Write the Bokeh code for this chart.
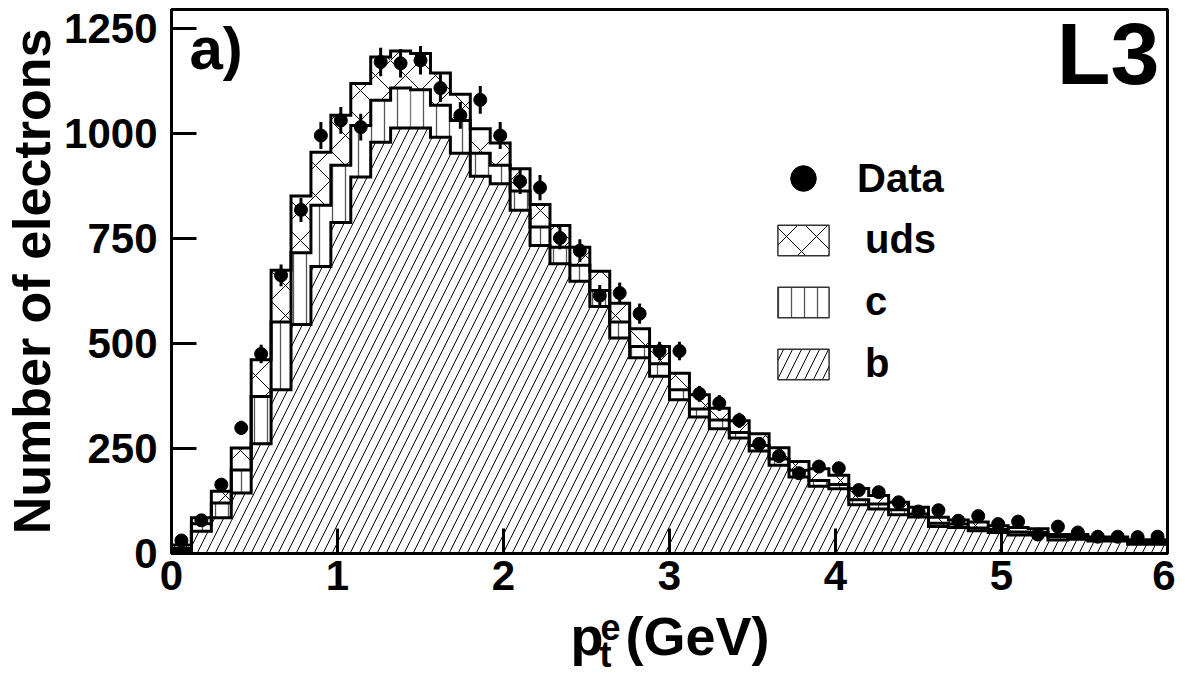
import numpy as np
from bokeh.plotting import figure
from bokeh.layouts import column
from bokeh.models import Range1d, FixedTicker, Label, Legend, LegendItem, ColumnDataSource
from bokeh.embed import file_html
from bokeh.resources import INLINE

# ---------------- data ----------------
bin_width = 0.12
n_bins = 50

b_vals = [6, 53, 85, 144, 261, 390, 545, 683, 788, 896,
          979, 1013, 1013, 991, 953, 898, 880, 817, 733, 690,
          648, 588, 513, 466, 422, 366, 325, 297, 275, 244,
          210, 182, 160, 154, 116, 106, 92, 87, 64, 62,
          54, 50, 44, 44, 32, 34, 30, 30, 22, 22]

c_vals = [6, 18, 35, 55, 113, 161, 171, 146, 136, 123,
          100, 95, 91, 76, 78, 55, 44, 46, 44, 39,
          38, 38, 38, 27, 30, 24, 19, 21, 13, 13,
          15, 16, 14, 10, 12, 12, 12, 7, 8, 8,
          7, 7, 7, 6, 8, 6, 4, 4, 6, 6]

uds_vals = [8, 14, 28, 52, 87, 123, 135, 126, 119, 100,
            103, 88, 86, 77, 62, 58, 53, 53, 54, 52,
            43, 46, 45, 42, 41, 39, 34, 28, 28, 28,
            27, 21, 28, 22, 27, 20, 18, 16, 14, 10,
            14, 9, 11, 9, 5, 5, 5, 5, 5, 5]

data_vals = [31, 79, 164, 299, 475, 662, 818, 995, 1031, 1015,
             1170, 1167, 1174, 1108, 1043, 1080, 995, 886, 871, 751,
             721, 614, 620, 571, 482, 482, 380, 358, 317, 261,
             232, 191, 207, 203, 151, 146, 122, 100, 103, 78,
             89, 70, 76, 45, 64, 50, 40, 40, 39, 40]

data_err = [6, 9, 13, 17, 22, 26, 29, 32, 32, 32,
            34, 34, 34, 33, 32, 33, 32, 30, 30, 27,
            27, 25, 25, 24, 22, 22, 19, 19, 18, 16,
            15, 14, 14, 14, 12, 12, 11, 10, 10, 9,
            9, 8, 9, 7, 8, 7, 6, 6, 6, 6]

x_ticks = [0, 1, 2, 3, 4, 5, 6]
y_ticks = [0, 250, 500, 750, 1000, 1250]
legend_labels = ["Data", "uds", "c", "b"]

FONT = "Liberation Sans"
BLACK = "black"

# ---------------- derived ----------------
edges = np.arange(n_bins + 1) * bin_width
centers = 0.5 * (edges[:-1] + edges[1:])
b_top = np.array(b_vals, dtype=float)
c_top = b_top + np.array(c_vals, dtype=float)
t_top = c_top + np.array(uds_vals, dtype=float)
d = np.array(data_vals, dtype=float)
e = np.array(data_err, dtype=float)

p = figure(frame_width=996, frame_height=544,
           min_border_left=164, min_border_right=8,
           min_border_top=9, min_border_bottom=54,
           x_range=Range1d(0, 6), y_range=Range1d(0, 1295),
           output_backend="svg", toolbar_location=None,
           background_fill_color="white", border_fill_color="white")
p.outline_line_color = BLACK
p.outline_line_width = 3
p.grid.visible = False

for ax in (p.xaxis[0], p.yaxis[0]):
    ax.major_tick_in = 25
    ax.major_tick_out = 0
    ax.minor_tick_in = 0
    ax.minor_tick_out = 0
    ax.major_tick_line_width = 3
    ax.major_tick_line_color = BLACK
    ax.axis_line_width = 3
    ax.axis_line_color = BLACK
    ax.major_label_text_font = FONT
    ax.major_label_text_font_style = "bold"
    ax.major_label_text_font_size = "42px"
    ax.major_label_text_color = BLACK

p.xaxis.ticker = FixedTicker(ticks=x_ticks)
p.yaxis.ticker = FixedTicker(ticks=y_ticks)
p.xaxis.major_label_standoff = 7
p.yaxis.major_label_standoff = 14
p.yaxis.axis_label = "Number of electrons"
p.yaxis.axis_label_text_font = FONT
p.yaxis.axis_label_text_font_style = "bold"
p.yaxis.axis_label_text_font_size = "52px"
p.yaxis.axis_label_text_color = BLACK
p.yaxis.axis_label_standoff = 0

src = ColumnDataSource(dict(left=edges[:-1], right=edges[1:],
                            zero=np.zeros(n_bins), b1=b_top, c1=c_top, t1=t_top))

B_HATCH = dict(hatch_pattern="right_diagonal_line", hatch_scale=18, hatch_weight=1, hatch_color=BLACK)
C_HATCH = dict(hatch_pattern="vertical_line", hatch_scale=13, hatch_weight=1.3, hatch_color="#555555")
U_HATCH = dict(hatch_pattern="diagonal_cross", hatch_scale=30, hatch_weight=1, hatch_color=BLACK)

p.quad(left="left", right="right", bottom="zero", top="b1", source=src,
       fill_color=None, line_color=None, **B_HATCH)
p.quad(left="left", right="right", bottom="b1", top="c1", source=src,
       fill_color=None, line_color=None, **C_HATCH)
p.quad(left="left", right="right", bottom="c1", top="t1", source=src,
       fill_color=None, line_color=None, **U_HATCH)

# step outlines of the three stacked levels
for lev in (b_top, c_top, t_top):
    xs = np.repeat(edges, 2)
    ys = np.concatenate([[0.0], np.repeat(lev, 2), [0.0]])
    p.line(x=xs, y=ys, line_width=3, line_color=BLACK, line_join="miter")

# data points with error bars
p.segment(x0=centers, y0=d - e, x1=centers, y1=d + e, line_width=3, line_color=BLACK)
p.scatter(x=centers, y=d, size=13, marker="circle", fill_color=BLACK, line_color=BLACK)

# legend proxies (NaN data: nothing drawn in the plot)
nan = [np.nan]
r_data = p.scatter(x=nan, y=nan, size=26, marker="circle", fill_color=BLACK, line_color=BLACK)
r_uds = p.quad(left=nan, right=nan, bottom=nan, top=nan, fill_color="white",
               line_color="#333333", line_width=1.5, **U_HATCH)
r_c = p.quad(left=nan, right=nan, bottom=nan, top=nan, fill_color="white",
             line_color="#333333", line_width=1.5, **C_HATCH)
r_b = p.quad(left=nan, right=nan, bottom=nan, top=nan, fill_color="white",
             line_color="#333333", line_width=1.5, **B_HATCH)

LEG_STYLE = dict(padding=0, margin=0, border_line_color=None, background_fill_alpha=0,
                 label_text_font=FONT, label_text_font_style="bold",
                 label_text_font_size="40px", label_text_color=BLACK)

legend_data = Legend(items=[LegendItem(label=legend_labels[0], renderers=[r_data])],
                     location=(600, 343), glyph_width=64, glyph_height=64,
                     label_height=38, label_standoff=22, **LEG_STYLE)
legend_mc = Legend(items=[LegendItem(label=legend_labels[1], renderers=[r_uds]),
                          LegendItem(label=legend_labels[2], renderers=[r_c]),
                          LegendItem(label=legend_labels[3], renderers=[r_b])],
                   location=(600, 167), glyph_width=64, glyph_height=38,
                   label_height=38, label_standoff=30, spacing=17, **LEG_STYLE)
p.add_layout(legend_data)
p.add_layout(legend_mc)

# annotations inside the frame
p.add_layout(Label(x=0.108, y=1202, text="a)", text_font=FONT, text_font_style="bold",
                   text_font_size="60px", text_baseline="alphabetic", text_color=BLACK))
p.add_layout(Label(x=5.952, y=1190, text="L3", text_font=FONT, text_font_style="bold",
                   text_font_size="88px", text_align="right", text_baseline="alphabetic",
                   text_color=BLACK))

# x-axis title strip: p_t^e (GeV)
p2 = figure(frame_width=996, frame_height=70,
            min_border_left=164, min_border_right=8,
            min_border_top=0, min_border_bottom=0,
            x_range=p.x_range, y_range=Range1d(0, 70),
            x_axis_type=None, y_axis_type=None,
            output_backend="svg", toolbar_location=None,
            background_fill_color="white", border_fill_color="white")
p2.outline_line_color = None
p2.grid.visible = False

p2.add_layout(Label(x=2.404, y=41.6, text="p", text_font=FONT, text_font_style="bold",
                    text_font_size="54px", text_baseline="alphabetic", text_color=BLACK))
p2.add_layout(Label(x=2.584, y=50.4, text="e", text_font=FONT, text_font_style="bold",
                    text_font_size="36px", text_baseline="alphabetic", text_color=BLACK))
p2.add_layout(Label(x=2.578, y=23.4, text="t", text_font=FONT, text_font_style="bold",
                    text_font_size="36px", text_baseline="alphabetic", text_color=BLACK))
p2.add_layout(Label(x=2.735, y=41.6, text="(GeV)", text_font=FONT, text_font_style="bold",
                    text_font_size="54px", text_baseline="alphabetic", text_color=BLACK))

layout = column(p, p2, spacing=0)
open("out.html", "w").write(file_html(layout, INLINE))
